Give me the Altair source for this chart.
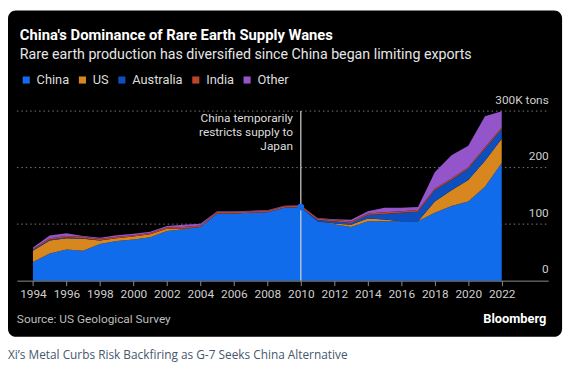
import altair as alt
import pandas as pd

# ---- data (thousand metric tons) ----
years = list(range(1994, 2023))
china =     [33, 48, 55, 53, 65, 70, 73, 77, 88, 91, 95, 119, 119, 120, 121, 129, 130,
             105, 100, 95, 105, 105, 105, 105, 120, 132, 140, 166, 208]
us =        [20, 23, 20, 21, 6, 5, 5, 5, 4, 1, 0, 0, 0, 0, 0, 0, 0,
             0, 1, 4, 5, 3, 0, 0, 20, 28, 38, 46, 43]
australia = [1.5, 1.5, 1.5, 1, 0.5, 0, 0, 0, 0, 0, 0, 0, 0, 0, 0, 0, 0,
             2.2, 3.5, 3, 6, 10, 15, 17, 20, 18, 20, 21, 17]
india =     [2, 2.5, 2.5, 2.5, 2.5, 2.5, 2.5, 2.5, 2.5, 2.7, 2.7, 2.7, 2.7, 2.7, 2.7, 2.7, 2.8,
             2.8, 2.8, 2.8, 2.8, 2.8, 2.8, 2.8, 2.8, 2.8, 2.8, 2.8, 2.8]
other =     [2.3, 5, 5, 1.5, 2, 3, 2.5, 2, 2, 4, 3, 1, 1, 1, 1, 1, 0.5,
             1, 1.5, 3, 4, 8, 6, 5.5, 29, 41, 38, 55, 29]

series_names = ["China", "US", "Australia", "India", "Other"]
series_colors = ["#116CEB", "#D8861E", "#0D4FBE", "#BA452A", "#9455CB"]
x_ticks = list(range(1994, 2023, 2))
y_ticks = [0, 100, 200, 300]
event_year = 2010
event_text = ["China temporarily", "restricts supply to", "Japan"]
title = "China's Dominance of Rare Earth Supply Wanes"
subtitle = "Rare earth production has diversified since China began limiting exports"
source = "Source: US Geological Survey"
brand = "Bloomberg"
caption = "Xi\u2019s Metal Curbs Risk Backfiring as G-7 Seeks China Alternative"

rows = []
for name, vals in zip(series_names, [china, us, australia, india, other]):
    for y, v in zip(years, vals):
        rows.append({"year": y, "country": name, "value": v, "ord": series_names.index(name)})
df = pd.DataFrame(rows)

FONT = "Roboto"
W, H = 539, 172
xscale = alt.Scale(domain=[1993.04, 2024.78], nice=False, zero=False)
yscale = alt.Scale(domain=[0, 300], nice=False)

yaxis = alt.Axis(orient="right", values=y_ticks, domain=False, ticks=False, grid=False,
                 labelAlign="right", labelPadding=0, labelBaseline="alphabetic",
                 labelOffset=-8, labelColor="#cfcfcf", labelFontSize=12, labelFont=FONT,
                 labelExpr="datum.value == 300 ? '300K tons' : datum.label",
                 title=None, zindex=1)
xaxis = alt.Axis(values=x_ticks, format="d", labelColor="#cfcfcf", labelFontSize=12,
                 labelFont=FONT, domainColor="#8c8c8c", tickColor="#8c8c8c", tickSize=5,
                 labelPadding=3, grid=False, title=None, zindex=1, labelFlush=False)

one = pd.DataFrame({"k": [0]})

card = alt.Chart(one).mark_rect(color="#000000", cornerRadius=8).encode(
    x=alt.value(-9), x2=alt.value(553), y=alt.value(-102), y2=alt.value(229))

grid = alt.Chart(pd.DataFrame({"g": [100, 200, 300]})).mark_rule(
    color="#7a7a7a", strokeDash=[1.5, 3], strokeWidth=1).encode(
    y=alt.Y("g:Q", scale=yscale, axis=yaxis), x=alt.value(0), x2=alt.value(W))

areas = alt.Chart(df).mark_area(opacity=1, interpolate="linear").encode(
    x=alt.X("year:Q", scale=xscale, axis=xaxis),
    y=alt.Y("value:Q", stack="zero", scale=yscale, axis=yaxis),
    color=alt.Color("country:N",
                    scale=alt.Scale(domain=series_names, range=series_colors),
                    sort=series_names,
                    legend=alt.Legend(orient="none", legendX=3, legendY=-38,
                                      direction="horizontal", title=None,
                                      gridAlign="none",
                                      symbolType="square", symbolSize=52,
                                      symbolStrokeWidth=0, symbolOpacity=1,
                                      labelFontSize=13, labelColor="#dddddd",
                                      labelFont=FONT, columnPadding=6, labelOffset=4)),
    order=alt.Order("ord:Q", sort="ascending"),
)

event_df = pd.DataFrame({"year": [event_year], "top": [300], "bot": [0],
                         "china": [china[years.index(event_year)]]})
vrule = alt.Chart(event_df).mark_rule(color="#d4d4d4", strokeWidth=1.2).encode(
    x=alt.X("year:Q", scale=xscale, axis=xaxis),
    y=alt.Y("top:Q", scale=yscale, axis=yaxis), y2="bot:Q")
dot = alt.Chart(event_df).mark_circle(color=series_colors[0], size=45, opacity=1).encode(
    x=alt.X("year:Q", scale=xscale, axis=xaxis),
    y=alt.Y("china:Q", scale=yscale, axis=yaxis))
note = alt.Chart(event_df).mark_text(align="right", baseline="top", dx=-8, fontSize=12,
                                     font=FONT, color="#dddddd", lineHeight=14).encode(
    x=alt.X("year:Q", scale=xscale, axis=xaxis), y=alt.value(2),
    text=alt.value(event_text))

def label(txt, x, y, size, color, weight="normal", align="left", font=FONT):
    return alt.Chart(one).mark_text(align=align, baseline="alphabetic", fontSize=size,
                                    fontWeight=weight, color=color, font=font).encode(
        x=alt.value(x), y=alt.value(y), text=alt.value(txt))

t1 = label(title, 3, -72, 15, "#ffffff", "bold")
t2 = label(subtitle, 3, -53, 14.4, "#e6e6e6")
t3 = label(source, 0, 215, 12, "#bdbdbd")
t4 = label(brand, 537, 215, 13, "#ffffff", "bold", "right")
t5 = label(caption, -9, 251, 12, "#46576e", font="Open Sans")

chart = alt.layer(card, grid, areas, vrule, dot, note, t1, t2, t3, t4, t5).properties(
    width=W, height=H,
    autosize=alt.AutoSizeParams(type="none"),
    padding={"left": 9, "top": 102, "right": 19, "bottom": 83},
    background="#ffffff",
).configure_view(stroke=None)

chart.save("out.html", embed_options={"renderer": "svg", "actions": False})
